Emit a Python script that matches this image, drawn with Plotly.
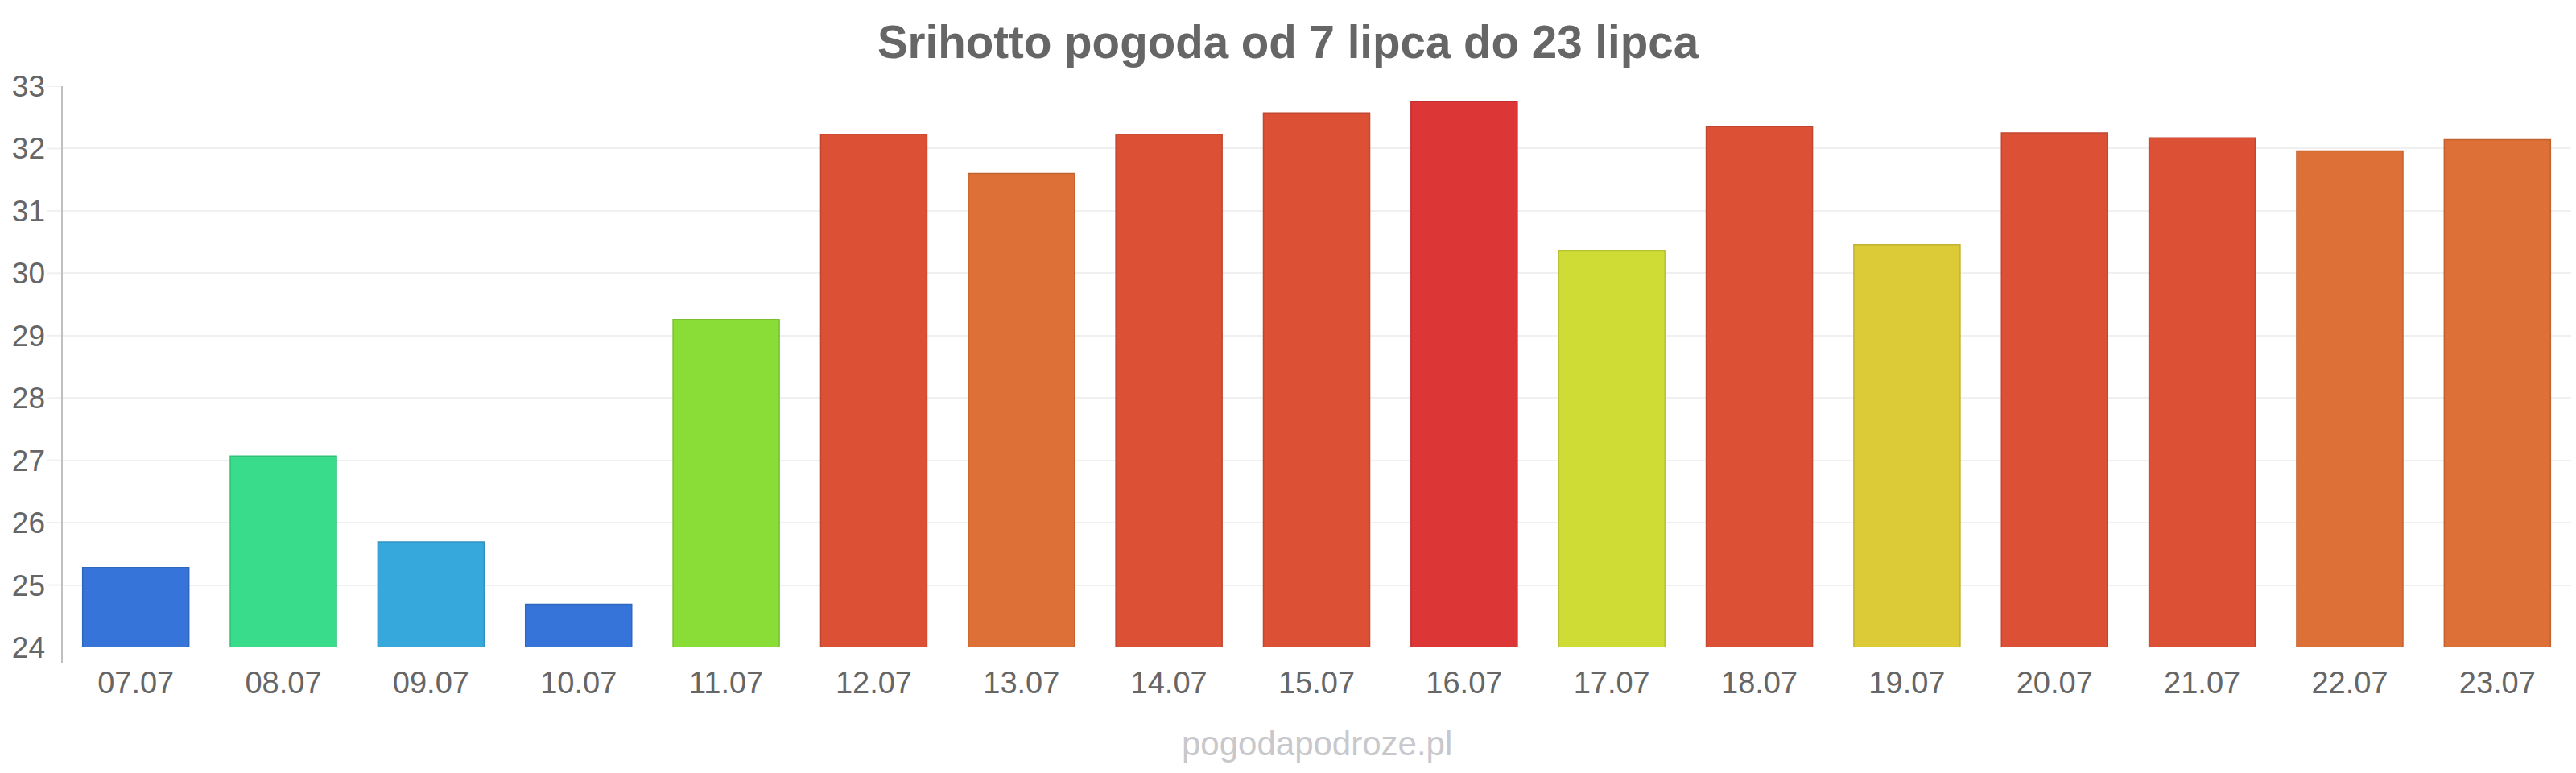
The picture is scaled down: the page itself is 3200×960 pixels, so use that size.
import plotly.graph_objects as go

categories = ["07.07", "08.07", "09.07", "10.07", "11.07", "12.07", "13.07", "14.07", "15.07",
              "16.07", "17.07", "18.07", "19.07", "20.07", "21.07", "22.07", "23.07"]
temps = [25.28, 27.07, 25.69, 24.69, 29.26, 32.23, 31.6, 32.23, 32.57,
         32.75, 30.36, 32.35, 30.46, 32.25, 32.17, 31.96, 32.14]
bar_colors = ["#3674d9", "#38dc8a", "#36a8dc", "#3674d9", "#8adc36", "#dc5036", "#dc7036", "#dc5036", "#dc5036",
              "#dc3636", "#d0dc36", "#dc5036", "#dccb36", "#dc5036", "#dc5036", "#dc7036", "#dc7036"]
y_ticks = [24, 25, 26, 27, 28, 29, 30, 31, 32, 33]
title_text = "Srihotto pogoda od 7 lipca do 23 lipca"
watermark = "pogodapodroze.pl"


def darken(hex_color, f=0.88):
    h = hex_color.lstrip("#")
    r, g, b = (int(h[i:i + 2], 16) for i in (0, 2, 4))
    return "rgb(%d,%d,%d)" % (r * f, g * f, b * f)


W, H = 3200, 960
ml, mr, mt, mb = 77, 6, 107, 156
plot_h = H - mt - mb

fig = go.Figure()
fig.add_trace(go.Bar(
    x=categories,
    y=[t - 24 for t in temps],
    base=24,
    marker=dict(color=bar_colors, line=dict(color=[darken(c) for c in bar_colors], width=1.5)),
    hoverinfo="skip",
))

shapes = []
# y-axis line extending below the plot area
shapes.append(dict(type="line", xref="paper", yref="paper", x0=0, x1=0,
                   y0=-19 / plot_h, y1=1, line=dict(color="#c0c0c0", width=2)))
# gridline stubs left of the axis
for v in y_ticks:
    shapes.append(dict(type="line", xref="paper", yref="y", x0=-19 / (W - ml - mr), x1=0,
                       y0=v, y1=v, line=dict(color="#f0f0f0", width=2), layer="below"))

fig.update_layout(
    width=W, height=H,
    margin=dict(l=ml, r=mr, t=mt, b=mb, pad=0),
    paper_bgcolor="white", plot_bgcolor="white",
    font=dict(family="Liberation Sans, Arial, sans-serif", color="#666666", size=37),
    title=dict(text="<b>" + title_text + "</b>", x=0.5, xanchor="center", xref="container",
               y=1 - 52 / H, yanchor="middle", yref="container",
               font=dict(size=56.5, color="#666666", family="Liberation Sans, Arial, sans-serif")),
    bargap=0.28,
    showlegend=False,
    shapes=shapes,
    xaxis=dict(showline=False, showgrid=False, zeroline=False, ticks="",
               tickfont=dict(size=38, color="#666666"), ticklabelstandoff=18, fixedrange=True),
    yaxis=dict(range=[24, 33], tickvals=y_ticks, showgrid=True, gridcolor="#f0f0f0", gridwidth=2,
               zeroline=False, showline=False, ticks="", tickfont=dict(size=37, color="#666666"),
               ticklabelstandoff=20, fixedrange=True),
    annotations=[dict(text=watermark, xref="paper", yref="paper", x=(1636 - ml) / (W - ml - mr),
                      y=-(949 - (H - mb)) / plot_h, xanchor="center", yanchor="bottom",
                      showarrow=False, font=dict(size=42, color="#c8c8cc"))],
)

fig.write_html("out.html")
